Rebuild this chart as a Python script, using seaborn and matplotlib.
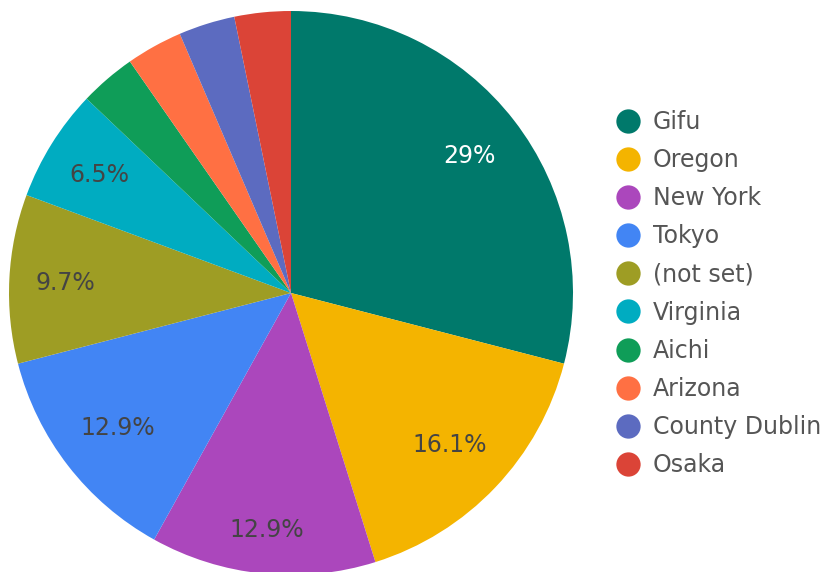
import matplotlib
matplotlib.use('Agg')
import matplotlib.pyplot as plt
from matplotlib.lines import Line2D
import numpy as np
import seaborn as sns

regions = ['Gifu', 'Oregon', 'New York', 'Tokyo', '(not set)', 'Virginia',
           'Aichi', 'Arizona', 'County Dublin', 'Osaka']
users = [9, 5, 4, 4, 3, 2, 1, 1, 1, 1]
colors = ['#00796B', '#F4B400', '#AB47BC', '#4285F4', '#9E9D24', '#00ACC1',
          '#0F9D58', '#FF7043', '#5C6BC0', '#DB4437']

sns.set_style('white')
plt.rcParams['font.family'] = ['DejaVu Sans']

fig = plt.figure(figsize=(8.27, 5.72), dpi=100)
ax = fig.add_axes([9 / 827, -3 / 572, 564 / 827, 564 / 572])


def fmt(pct):
    if pct < 5:
        return ''
    return f'{pct:.1f}%'.replace('.0%', '%')


wedges, texts, autotexts = ax.pie(users, colors=colors, startangle=90, counterclock=False,
                                  autopct=fmt, pctdistance=0.79,
                                  wedgeprops=dict(linewidth=0),
                                  textprops=dict(fontsize=17, color='#444444'))
autotexts[0].set_color('white')

# plotly-like placement of the inside labels
label_r = [0.80, 0.775, 0.84, 0.776, 0.80, 0.80, 0.79, 0.79, 0.79, 0.79]
for w, t, r in zip(wedges, autotexts, label_r):
    mid = np.deg2rad((w.theta1 + w.theta2) / 2)
    t.set_position((r * np.cos(mid), r * np.sin(mid) - 0.005))

ax.set_xlim(-1, 1)
ax.set_ylim(-1, 1)
ax.set_aspect('equal')
ax.axis('off')

handles = [Line2D([0], [0], marker='o', linestyle='', markersize=17.5,
                  markerfacecolor=c, markeredgewidth=0) for c in colors]
leg = fig.legend(handles, regions, loc='upper left', bbox_to_anchor=(602 / 827, 1 - 98 / 572),
                 frameon=False, fontsize=17, labelspacing=0.6, handletextpad=0.45,
                 handlelength=1.2, borderpad=0)
for t in leg.get_texts():
    t.set_color('#555555')

fig.savefig('out.png', dpi=100)
